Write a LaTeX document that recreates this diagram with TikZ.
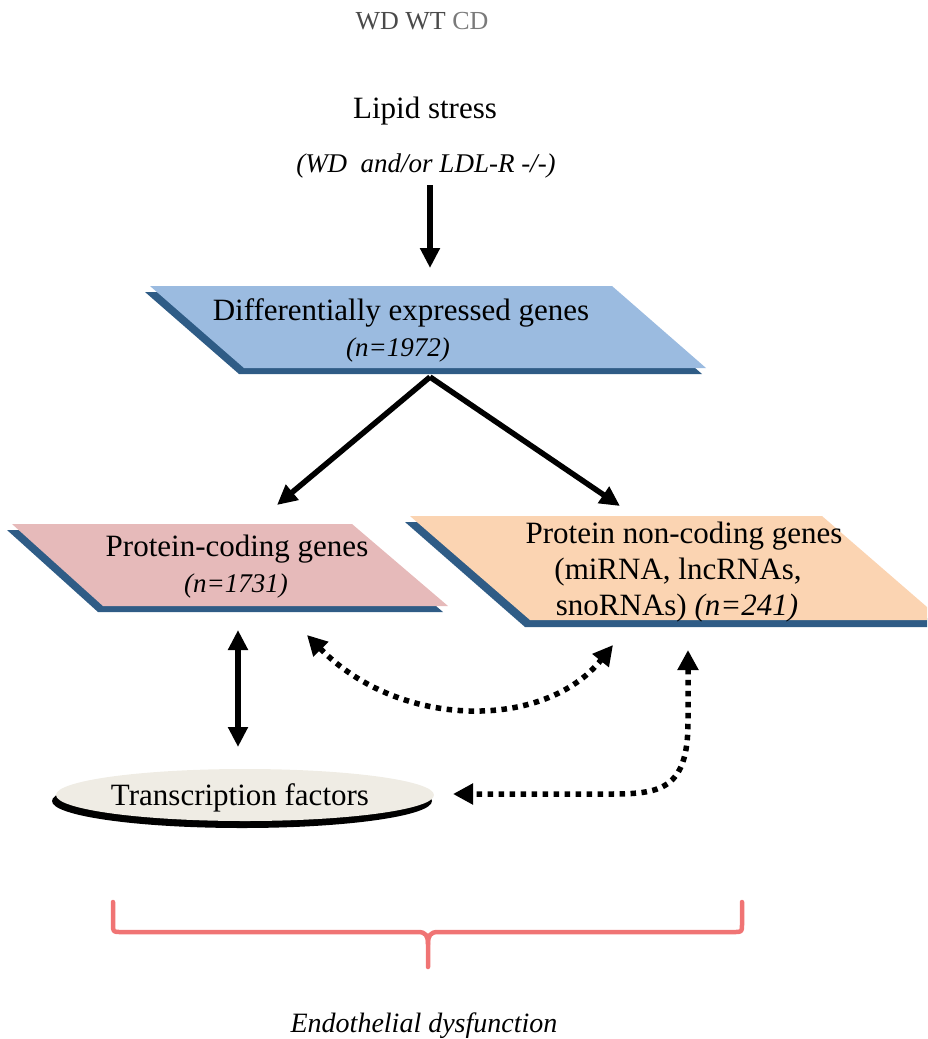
\documentclass[tikz,border=0pt]{standalone}
\usepackage{fontspec}
\setmainfont{Liberation Serif}
\usetikzlibrary{arrows.meta}
\definecolor{bluefc}{HTML}{9BBBE0}
\definecolor{pinkfc}{HTML}{E6BABA}
\definecolor{orngfc}{HTML}{FBD4B2}
\definecolor{edgeblue}{HTML}{2F5C86}
\definecolor{ellfc}{HTML}{EFECE4}
\definecolor{bracered}{HTML}{F07474}
\definecolor{txtgray}{HTML}{4A4A4A}
\definecolor{txtlgray}{HTML}{7A7A7A}
\tikzset{
  lbl/.style={font=\fontsize{31}{36}\selectfont, inner sep=0pt, anchor=base},
  itl/.style={font=\fontsize{27}{32}\selectfont\itshape, inner sep=0pt, anchor=base},
  solidarr/.style={line width=5.5pt, -{Triangle[length=20pt,width=19pt]}},
  solidbi/.style={line width=5.5pt, {Triangle[length=20pt,width=19pt]}-{Triangle[length=20pt,width=19pt]}},
  dotbi/.style={line width=5.5pt, dash pattern=on 5.5pt off 5.5pt, {Triangle[length=20pt,width=20pt]}-{Triangle[length=20pt,width=20pt]}},
  thick3d/.style={fill=edgeblue},
}
\begin{document}
\begin{tikzpicture}[x=1pt,y=-1pt]
\useasboundingbox (0,0) rectangle (927,1039);
\begin{scope}
\clip (0,0) rectangle (927,1039);
% top labels
\node[lbl, font=\fontsize{26}{30}\selectfont] (wd) at (422,29) {\textcolor{txtgray}{WD WT} \textcolor{txtlgray}{CD}};
\node[lbl] (lipid) at (425,118) {Lipid stress};
\node[itl] (lipidsub) at (426,172) {(WD \ and/or LDL-R -/-)};
% blue parallelogram
\fill[thick3d] (145,292) -- (608,292) -- (702,374) -- (239,374) -- cycle;
\fill[bluefc] (150,286) -- (612,286) -- (706,368) -- (244,368) -- cycle;
\node[lbl] (deg) at (401,320) {Differentially expressed genes};
\node[itl] (degn) at (398,356) {(n=1972)};
% pink parallelogram
\fill[thick3d] (7,530) -- (347,530) -- (443,612) -- (98,612) -- cycle;
\fill[pinkfc] (12,524) -- (352,524) -- (448,606) -- (103,606) -- cycle;
\node[lbl] (pcg) at (237,556) {Protein-coding genes};
\node[itl] (pcgn) at (236,592) {(n=1731)};
% orange parallelogram
\fill[thick3d] (405,522) -- (817,522) -- (937,627) -- (525,627) -- cycle;
\fill[orngfc] (410,516) -- (822,516) -- (942,620) -- (530,620) -- cycle;
\node[lbl] (ncg) at (684,543) {Protein non-coding genes};
\node[lbl] (ncgb) at (678,579) {(miRNA, lncRNAs,};
\node[lbl] (ncgc) at (677,615) {snoRNAs) \textit{(n=241)}};
% ellipse
\fill[black] (242,801) ellipse [x radius=190, y radius=27];
\fill[ellfc] (245,795) ellipse [x radius=189, y radius=26];
\node[lbl] (tf) at (240,805) {Transcription factors};
% connector endpoints
\coordinate (lsout) at (430,185);
\coordinate (degin) at (430,268);
\coordinate (degout) at (430,377);
\coordinate (pcgin) at (277,505);
\coordinate (ncgin) at (620,506);
\coordinate (pcgout) at (238,630);
\coordinate (tfin) at (238,747);
\coordinate (pcgside) at (307,635);
\coordinate (ncgside) at (613,645);
\coordinate (ncgout) at (688,650);
\coordinate (tfside) at (453,794);
% arrows
\draw[solidarr] (lsout) -- (degin);
\draw[solidarr] (degout) -- (pcgin);
\draw[solidarr] (degout) -- (ncgin);
\draw[solidbi] (pcgout) -- (tfin);
\draw[dotbi] (pcgside) .. controls (400,730) and (545,730) .. (ncgside);
\draw[dotbi] (ncgout) -- (688,722) .. controls (688,790) and (660,794) .. (610,794) -- (tfside);
% brace
\draw[bracered, line width=4.5pt, line cap=round, line join=round]
  (113,902) -- (113,924) .. controls (113,932) .. (121,932) -- (418,932)
  .. controls (426,932) and (428,936) .. (428,944) -- (428,967);
\draw[bracered, line width=4.5pt, line cap=round, line join=round]
  (742,902) -- (742,924) .. controls (742,932) .. (734,932) -- (438,932)
  .. controls (430,932) and (428,936) .. (428,944);
\node[itl, font=\fontsize{28}{32}\selectfont\itshape] (ed) at (424,1032) {Endothelial dysfunction};
\end{scope}
\end{tikzpicture}
\end{document}
